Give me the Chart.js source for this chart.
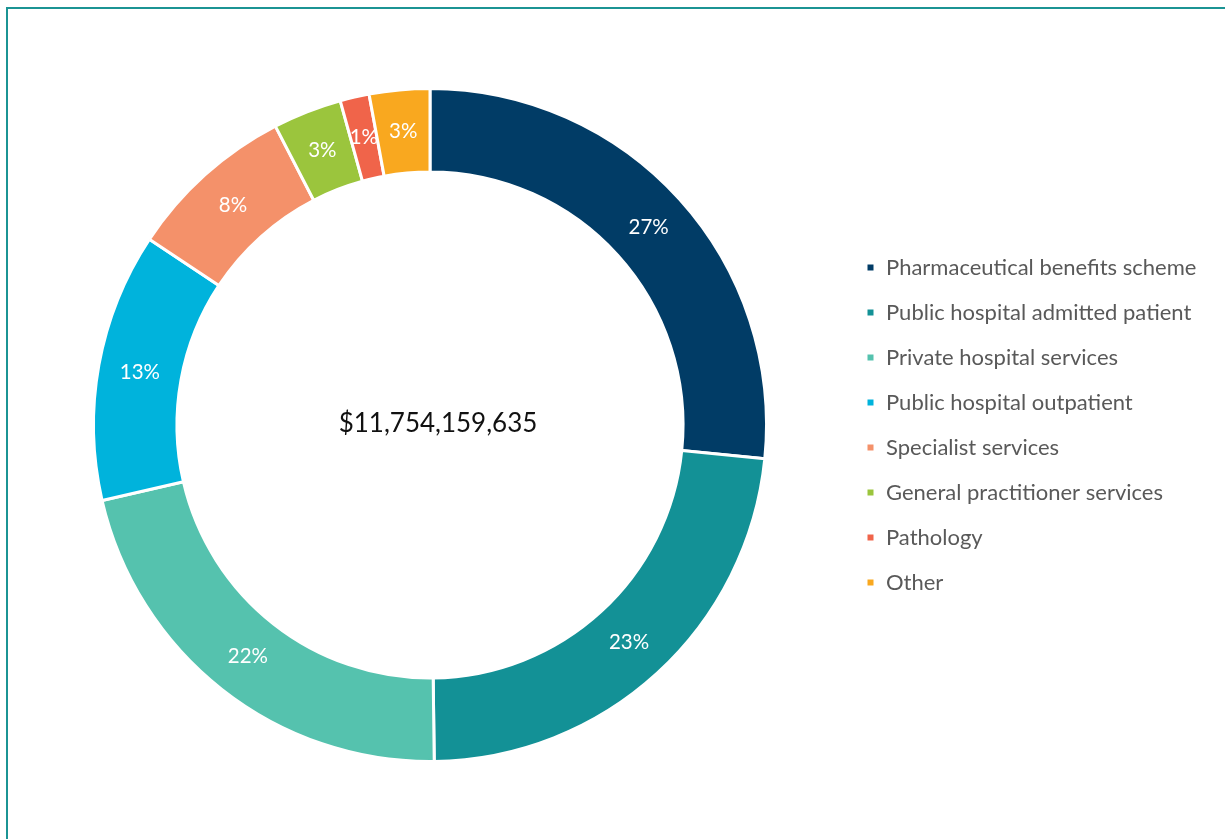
<!DOCTYPE html>
<html>
<head>
<meta charset="utf-8">
<script src="https://cdn.jsdelivr.net/npm/chart.js@4.4.1/dist/chart.umd.min.js"></script>
<style>
  html, body { margin: 0; padding: 0; background: #ffffff; }
  #wrap { position: relative; width: 1225px; height: 839px; }
  canvas { display: block; }
</style>
</head>
<body>
<div id="wrap"><canvas id="c" width="1225" height="839"></canvas></div>
<script>
const categories = [
  "Pharmaceutical benefits scheme",
  "Public hospital admitted patient",
  "Private hospital services",
  "Public hospital outpatient",
  "Specialist services",
  "General practitioner services",
  "Pathology",
  "Other"
];
const shares = [26.6, 23.2, 21.6, 12.9, 8.1, 3.3, 1.4, 2.9];
const colors = ["#013C66", "#139196", "#55C2AE", "#00B3DC", "#F4916A", "#9BC53D", "#F0644A", "#F9A81F"];
const totalLabel = "$11,754,159,635";

const FONT = "Lato, 'Open Sans', sans-serif";

const framePlugin = {
  id: 'frame',
  beforeDraw(chart) {
    const ctx = chart.ctx;
    ctx.save();
    ctx.strokeStyle = '#1B9494';
    ctx.lineWidth = 2;
    ctx.beginPath();
    ctx.moveTo(7, chart.height);
    ctx.lineTo(7, 8);
    ctx.lineTo(chart.width, 8);
    ctx.stroke();
    ctx.restore();
  }
};

const labelPlugin = {
  id: 'sliceLabels',
  afterDatasetsDraw(chart) {
    const ctx = chart.ctx;
    const meta = chart.getDatasetMeta(0);
    const data = chart.data.datasets[0].data;
    ctx.save();
    ctx.fillStyle = '#ffffff';
    ctx.font = "20.5px " + FONT;
    ctx.textAlign = 'center';
    ctx.textBaseline = 'middle';
    meta.data.forEach((arc, i) => {
      const p = arc.tooltipPosition();
      ctx.fillText(Math.round(data[i]) + '%', p.x, p.y);
    });
    // centre total
    const a = meta.data[0];
    ctx.fillStyle = '#111111';
    ctx.font = "26px " + FONT;
    ctx.fillText(totalLabel, a.x + 8, a.y - 1);
    ctx.restore();
  }
};

const chart = new Chart(document.getElementById('c'), {
  type: 'doughnut',
  data: {
    labels: categories,
    datasets: [{
      data: shares,
      backgroundColor: colors,
      borderColor: '#ffffff',
      borderWidth: 3,
      hoverOffset: 0
    }]
  },
  options: {
    responsive: false,
    animation: false,
    cutout: '75.2%',
    layout: { padding: { left: 17, right: 20, top: 87, bottom: 76 } },
    plugins: {
      tooltip: { enabled: false },
      legend: {
        position: 'right',
        labels: {
          boxWidth: 9,
          boxHeight: 9,
          padding: 23,
          color: '#595959',
          font: { family: FONT, size: 22 }
        }
      }
    }
  },
  plugins: [framePlugin, labelPlugin]
});

// place the legend so its items start at the reference column
const lg = chart.legend;
const shift = lg.left - 843;
chart.options.layout.padding.right = 20 + shift;
chart.update();
</script>
</body>
</html>
